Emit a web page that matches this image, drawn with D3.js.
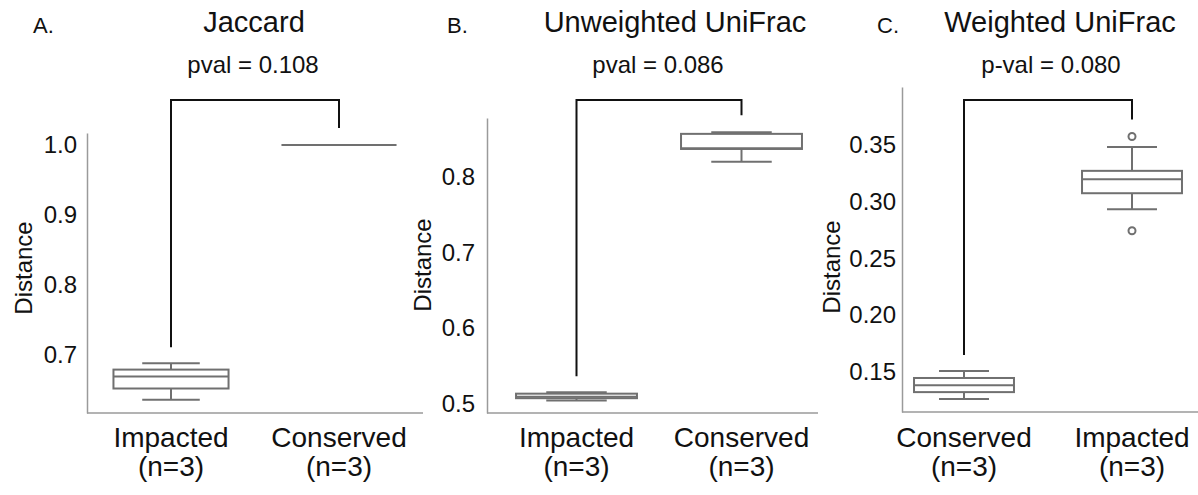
<!DOCTYPE html>
<html>
<head>
<meta charset="utf-8">
<script src="https://cdn.jsdelivr.net/npm/d3@7"></script>
<style>
  body { margin: 0; background: #fff; }
  svg { display: block; font-family: "Liberation Sans", Arial, sans-serif; }
</style>
</head>
<body>
<div id="chart"></div>
<script>
// box stats are [whisker low, q1, median, q3, whisker high]
const jaccardGroups = ["Impacted", "Conserved"];
const jaccardBox = [[0.636, 0.652, 0.669, 0.679, 0.688], [1.0, 1.0, 1.0, 1.0, 1.0]];
const jaccardOutliers = [[], []];
const jaccardTicks = [0.7, 0.8, 0.9, 1.0];

const unweightedGroups = ["Impacted", "Conserved"];
const unweightedBox = [[0.504, 0.507, 0.509, 0.513, 0.515], [0.820, 0.837, 0.838, 0.857, 0.859]];
const unweightedOutliers = [[], []];
const unweightedTicks = [0.5, 0.6, 0.7, 0.8];

const weightedGroups = ["Conserved", "Impacted"];
const weightedBox = [[0.1254, 0.1316, 0.1376, 0.1441, 0.1503], [0.2934, 0.3076, 0.3200, 0.3274, 0.3484]];
const weightedOutliers = [[], [0.2744, 0.3578]];
const weightedTicks = [0.15, 0.20, 0.25, 0.30, 0.35];

const groupN = ["(n=3)", "(n=3)"];
const titles = ["Jaccard", "Unweighted UniFrac", "Weighted UniFrac"];
const pvals = ["pval = 0.108", "pval = 0.086", "p-val = 0.080"];
const letters = ["A.", "B.", "C."];

const W = 1198, H = 495;
const svg = d3.select("#chart").append("svg").attr("width", W).attr("height", H);
svg.append("rect").attr("width", W).attr("height", H).attr("fill", "#fff");

const boxColor = "#707070", spineColor = "#9a9a9a", textColor = "#111";

// layout of each panel (pixels)
const panels = [
  { groups: jaccardGroups, box: jaccardBox, out: jaccardOutliers, ticks: jaccardTicks, fmt: ".1f",
    domain: [0.617, 1.017], top: 133, bottom: 413, axisX: 87, axisEnd: 423, band: [87, 423], boxFrac: 0.685,
    tickPad: 10, labelX: 24, labelY: 268, titleX: 254, pvalX: 253, letterX: 33, bracketTop: 100 },
  { groups: unweightedGroups, box: unweightedBox, out: unweightedOutliers, ticks: unweightedTicks, fmt: ".1f",
    domain: [0.4874, 0.878], top: 118, bottom: 413, axisX: 487, axisEnd: 818, band: [494, 824], boxFrac: 0.733,
    tickPad: 12, labelX: 423, labelY: 265, titleX: 675, pvalX: 658, letterX: 447, bracketTop: 100 },
  { groups: weightedGroups, box: weightedBox, out: weightedOutliers, ticks: weightedTicks, fmt: ".2f",
    domain: [0.114, 0.4016], top: 87, bottom: 412, axisX: 902, axisEnd: 1198, band: [880, 1216], boxFrac: 0.595,
    tickPad: 6, labelX: 832, labelY: 267, titleX: 1060, pvalX: 1051, letterX: 877, bracketTop: 100 }
];

panels.forEach(function(p, i) {
  const g = svg.append("g");
  const y = d3.scaleLinear().domain(p.domain).range([p.bottom, p.top]);
  const x = d3.scaleBand().domain(p.groups).range(p.band);
  const bw = x.bandwidth() * p.boxFrac;

  // y axis
  const ya = g.append("g")
      .attr("transform", "translate(" + p.axisX + ",0)")
      .call(d3.axisLeft(y).tickValues(p.ticks).tickFormat(d3.format(p.fmt))
        .tickSize(0).tickSizeOuter(0).tickPadding(p.tickPad));
  ya.select(".domain").attr("stroke", spineColor).attr("stroke-width", 1.5);
  ya.selectAll("text").attr("font-size", 24).attr("fill", textColor)
      .attr("font-family", "Liberation Sans, Arial, sans-serif");

  // x spine
  g.append("line")
      .attr("x1", p.axisX).attr("x2", p.axisEnd)
      .attr("y1", p.bottom).attr("y2", p.bottom)
      .attr("stroke", spineColor).attr("stroke-width", 1.5);

  // category labels
  const cl = g.selectAll(".cat").data(p.groups).enter().append("text")
      .attr("text-anchor", "middle").attr("font-size", 28).attr("fill", textColor)
      .attr("x", function(d) { return x(d) + x.bandwidth() / 2; })
      .attr("y", 447);
  cl.append("tspan").text(function(d) { return d; });
  cl.append("tspan")
      .attr("x", function(d) { return x(d) + x.bandwidth() / 2; })
      .attr("dy", 29)
      .text(function(d, j) { return groupN[j]; });

  // boxes
  const bx = g.selectAll(".box").data(p.box).enter().append("g")
      .attr("transform", function(d, j) { return "translate(" + (x(p.groups[j]) + x.bandwidth() / 2) + ",0)"; })
      .attr("stroke", boxColor).attr("stroke-width", 2).attr("fill", "none");
  bx.append("line").attr("x1", 0).attr("x2", 0)
      .attr("y1", function(d) { return y(d[0]); }).attr("y2", function(d) { return y(d[1]); });
  bx.append("line").attr("x1", 0).attr("x2", 0)
      .attr("y1", function(d) { return y(d[3]); }).attr("y2", function(d) { return y(d[4]); });
  bx.append("line").attr("x1", -bw / 4).attr("x2", bw / 4)
      .attr("y1", function(d) { return y(d[0]); }).attr("y2", function(d) { return y(d[0]); });
  bx.append("line").attr("x1", -bw / 4).attr("x2", bw / 4)
      .attr("y1", function(d) { return y(d[4]); }).attr("y2", function(d) { return y(d[4]); });
  bx.append("rect")
      .attr("x", -bw / 2).attr("width", bw)
      .attr("y", function(d) { return y(d[3]); })
      .attr("height", function(d) { return y(d[1]) - y(d[3]); })
      .attr("fill", "#fff");
  bx.append("line").attr("x1", -bw / 2).attr("x2", bw / 2)
      .attr("y1", function(d) { return y(d[2]); }).attr("y2", function(d) { return y(d[2]); });

  // outliers
  p.out.forEach(function(vals, j) {
    g.selectAll(null).data(vals).enter().append("circle")
        .attr("cx", x(p.groups[j]) + x.bandwidth() / 2)
        .attr("cy", function(d) { return y(d); })
        .attr("r", 3.5)
        .attr("fill", "#fff").attr("stroke", boxColor).attr("stroke-width", 2);
  });

  // significance bracket
  const tops = p.box.map(function(d, j) { return d3.max(d.concat(p.out[j])); });
  const cx = p.groups.map(function(d) { return x(d) + x.bandwidth() / 2; });
  g.append("path")
      .attr("d", d3.line()([
        [cx[0], y(tops[0]) - 16], [cx[0], p.bracketTop],
        [cx[1], p.bracketTop], [cx[1], y(tops[1]) - 17]
      ]))
      .attr("fill", "none").attr("stroke", "#111").attr("stroke-width", 2);

  // texts
  g.append("text").attr("x", p.titleX).attr("y", 32).attr("text-anchor", "middle")
      .attr("font-size", 29).attr("fill", textColor).text(titles[i]);
  g.append("text").attr("x", p.pvalX).attr("y", 73).attr("text-anchor", "middle")
      .attr("font-size", 24).attr("fill", textColor).text(pvals[i]);
  g.append("text").attr("x", p.letterX).attr("y", 33)
      .attr("font-size", 22).attr("fill", textColor).text(letters[i]);
  g.append("text")
      .attr("transform", "translate(" + p.labelX + "," + p.labelY + ") rotate(-90)")
      .attr("text-anchor", "middle").attr("dy", "0.35em")
      .attr("font-size", 24).attr("fill", textColor).text("Distance");
});
</script>
</body>
</html>
